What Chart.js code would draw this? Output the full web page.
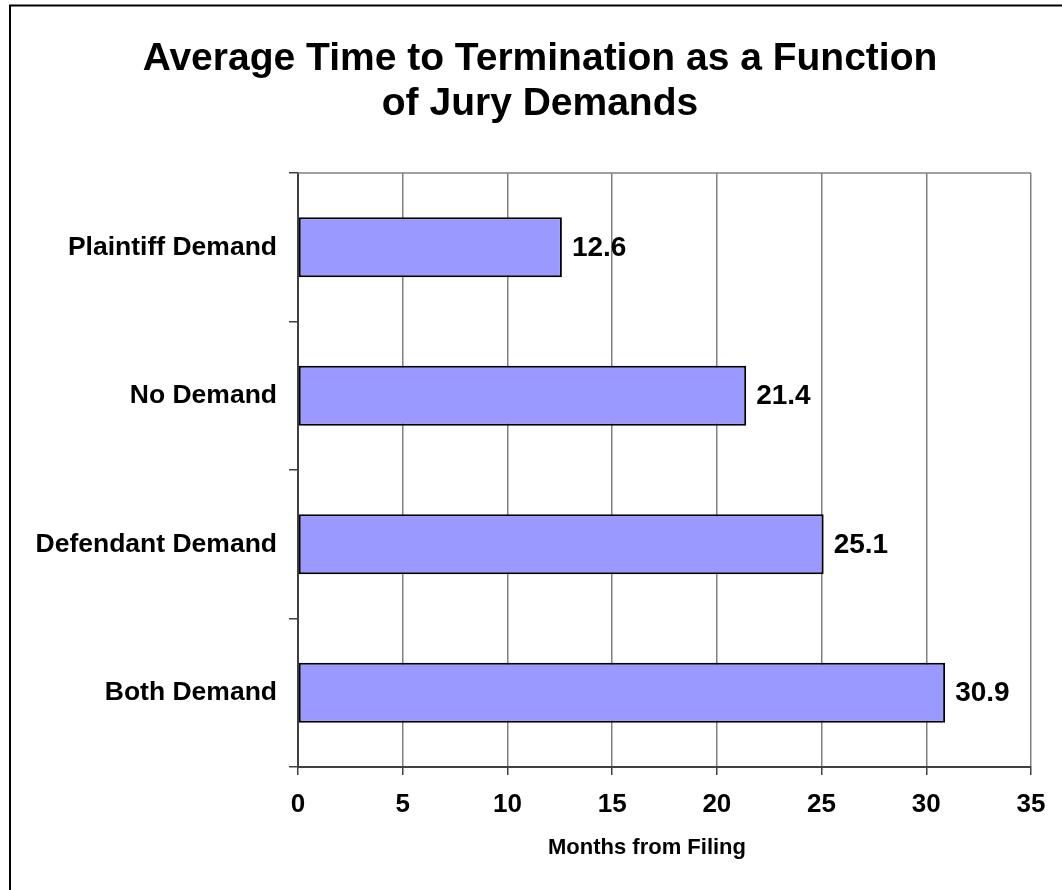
<!DOCTYPE html>
<html>
<head>
<meta charset="utf-8">
<script src="https://cdn.jsdelivr.net/npm/chart.js@4"></script>
<style>
  html, body { margin: 0; padding: 0; background: #fff; }
  #wrap { width: 1062px; height: 890px; position: relative; }
</style>
</head>
<body>
<div id="wrap"><canvas id="c" width="1062" height="890"></canvas></div>
<script>
const titleLines = ["Average Time to Termination as a Function", "of Jury Demands"];
const categories = ["Plaintiff Demand", "No Demand", "Defendant Demand", "Both Demand"];
const months = [12.6, 21.4, 25.1, 30.9];
const xAxisTitle = "Months from Filing";
const xMin = 0, xMax = 35, xStep = 5;

const FONT = "'Liberation Sans', Arial, Helvetica, sans-serif";
Chart.defaults.font.family = FONT;

const framePlugin = {
  id: 'frame',
  beforeDraw(chart) {
    const ctx = chart.ctx;
    ctx.save();
    ctx.fillStyle = '#fff';
    ctx.fillRect(0, 0, chart.width, chart.height);
    ctx.strokeStyle = '#000';
    ctx.lineWidth = 2;
    ctx.strokeRect(10, 5.5, 2000, 2000);
    // chart title
    ctx.fillStyle = '#000';
    ctx.font = 'bold 39px ' + FONT;
    ctx.textAlign = 'center';
    ctx.textBaseline = 'middle';
    ctx.fillText(titleLines[0], 540, 59);
    ctx.fillText(titleLines[1], 540, 104);
    // x axis title
    ctx.font = 'bold 22px ' + FONT;
    ctx.fillText(xAxisTitle, 647, 848);
    ctx.restore();
  },
  beforeDatasetsDraw(chart) {
    const a = chart.chartArea, ctx = chart.ctx;
    ctx.save();
    ctx.strokeStyle = '#808080';
    ctx.lineWidth = 1.5;
    ctx.beginPath();
    ctx.moveTo(a.left, a.top);
    ctx.lineTo(a.right, a.top);
    ctx.stroke();
    ctx.restore();
  },
  afterDatasetsDraw(chart) {
    const ctx = chart.ctx;
    const meta = chart.getDatasetMeta(0);
    ctx.save();
    ctx.fillStyle = '#000';
    ctx.font = 'bold 28px ' + FONT;
    ctx.textAlign = 'left';
    ctx.textBaseline = 'middle';
    meta.data.forEach((bar, i) => {
      ctx.fillText(months[i].toFixed(1), bar.x + 10, bar.y + 1);
    });
    ctx.restore();
  }
};

new Chart(document.getElementById('c'), {
  type: 'bar',
  data: {
    labels: categories,
    datasets: [{
      data: months,
      backgroundColor: '#9999FF',
      borderColor: '#000000',
      borderWidth: 2,
      borderSkipped: false,
      barPercentage: 0.404,
      categoryPercentage: 1.0
    }]
  },
  options: {
    indexAxis: 'y',
    responsive: false,
    animation: false,
    layout: { padding: { top: 173, right: 31, left: 0, bottom: 0 } },
    plugins: {
      legend: { display: false },
      title: { display: false },
      tooltip: { enabled: false }
    },
    scales: {
      y: {
        type: 'category',
        offset: true,
        grid: { offset: true, drawOnChartArea: false, tickLength: 9, tickColor: '#404040', lineWidth: 1.5 },
        border: { color: '#404040', width: 2 },
        ticks: { color: '#000', font: { size: 26.5, weight: 'bold' }, padding: 12 },
        afterFit(s) { s.width = 298; }
      },
      x: {
        min: xMin, max: xMax,
        grid: { color: '#808080', lineWidth: 1.5, tickLength: 8, tickColor: '#404040' },
        border: { color: '#404040', width: 2 },
        ticks: { stepSize: xStep, color: '#000', font: { size: 26, weight: 'bold' }, padding: 14 },
        title: { display: false, text: xAxisTitle },
        afterFit(s) { s.height = 123; }
      }
    }
  },
  plugins: [framePlugin]
});
</script>
</body>
</html>
